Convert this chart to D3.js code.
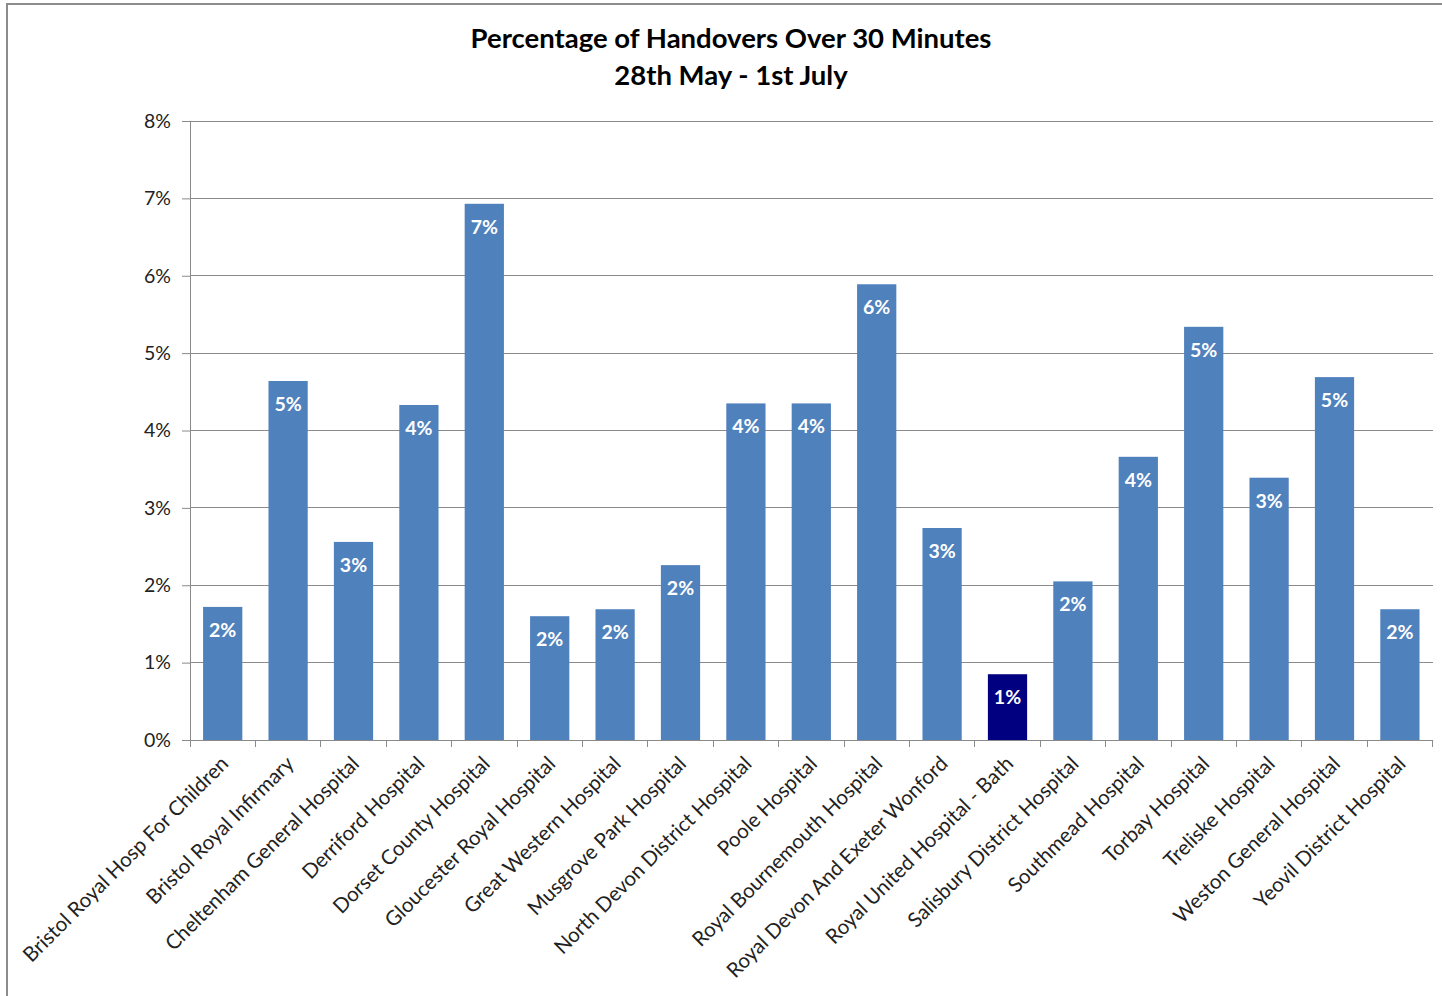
<!DOCTYPE html>
<html><head><meta charset="utf-8">
<script src="https://cdn.jsdelivr.net/npm/d3@7"></script>
<style>body{margin:0;background:#fff}svg{display:block}</style>
</head><body>
<svg id="c" width="1442" height="996"></svg>
<script>
const categories = ["Bristol Royal Hosp For Children","Bristol Royal Infirmary","Cheltenham General Hospital","Derriford Hospital","Dorset County Hospital","Gloucester Royal Hospital","Great Western Hospital","Musgrove Park Hospital","North Devon District Hospital","Poole Hospital","Royal Bournemouth Hospital","Royal Devon And Exeter Wonford","Royal United Hospital - Bath","Salisbury District Hospital","Southmead Hospital","Torbay Hospital","Treliske Hospital","Weston General Hospital","Yeovil District Hospital"];
const values = [1.72,4.64,2.56,4.33,6.93,1.60,1.69,2.26,4.35,4.35,5.89,2.74,0.85,2.05,3.66,5.34,3.39,4.69,1.69];
const highlighted = ["Royal United Hospital - Bath"];
const yTicks = [0,1,2,3,4,5,6,7,8];
const titleLines = ["Percentage of Handovers Over 30 Minutes","28th May - 1st July"];

const svg = d3.select("#c");
const font = "Lato, 'Open Sans', sans-serif";
// outer border
svg.append("rect").attr("x",7).attr("y",4).attr("width",1450).attr("height",1010)
  .attr("fill","#fff").attr("stroke","#8c8c8c").attr("stroke-width",2);

const m = {left:190, right:1432.6, top:121, bottom:740};
const x = d3.scaleBand().domain(categories).range([m.left,m.right]).paddingInner(0.4).paddingOuter(0.2);
const xb = d3.scaleBand().domain(categories).range([m.left,m.right]);
const y = d3.scaleLinear().domain([0,8]).range([m.bottom,m.top]);

// gridlines
svg.append("g").selectAll("line").data(yTicks.slice(1)).join("line")
  .attr("x1",m.left).attr("x2",m.right).attr("y1",d=>y(d)).attr("y2",d=>y(d))
  .attr("stroke","#8a8a8a").attr("stroke-width",1).attr("shape-rendering","crispEdges");

// y axis
const ya = svg.append("g").attr("transform",`translate(${m.left},0)`)
  .call(d3.axisLeft(y).tickValues(yTicks).tickFormat(d=>d+"%").tickSize(8).tickPadding(11));
ya.select(".domain").attr("stroke","#8a8a8a");
ya.selectAll(".tick line").attr("stroke","#8a8a8a");
ya.selectAll("text").attr("font-family",font).attr("font-size",19.5).attr("fill","#222");

// bars
svg.append("g").selectAll("rect").data(categories).join("rect")
  .attr("x",d=>x(d)).attr("width",x.bandwidth())
  .attr("y",(d,i)=>y(values[i])).attr("height",(d,i)=>y(0)-y(values[i]))
  .attr("fill",d=>highlighted.includes(d)?"#000080":"#4F81BD");

// data labels
svg.append("g").selectAll("text").data(categories).join("text")
  .attr("x",d=>x(d)+x.bandwidth()/2).attr("y",(d,i)=>y(values[i])+30)
  .attr("text-anchor","middle").attr("font-family",font).attr("font-weight","bold")
  .attr("font-size",19.5).attr("fill","#fff")
  .text((d,i)=>Math.round(values[i])+"%");

// x axis
const xa = svg.append("g").attr("transform",`translate(0,${m.bottom})`)
  .call(d3.axisBottom(xb).tickSize(0).tickFormat(d=>d));
xa.select(".domain").attr("stroke","#8a8a8a");
xa.selectAll(".tick text").remove();
// category boundary ticks
svg.append("g").selectAll("line").data(categories.concat(["__end"])).join("line")
  .attr("x1",(d,i)=>m.left+i*xb.step()).attr("x2",(d,i)=>m.left+i*xb.step())
  .attr("y1",m.bottom).attr("y2",m.bottom+7).attr("stroke","#8a8a8a").attr("shape-rendering","crispEdges");
// category labels
svg.append("g").selectAll("text").data(categories).join("text")
  .attr("transform",d=>`translate(${xb(d)+xb.bandwidth()/2+7},${m.bottom+25}) rotate(-45)`)
  .attr("text-anchor","end").attr("font-family",font).attr("font-size",20.5).attr("fill","#222")
  .text(d=>d);

// title
svg.append("g").selectAll("text").data(titleLines).join("text")
  .attr("x",731).attr("y",(d,i)=>48+i*37).attr("text-anchor","middle")
  .attr("font-family",font).attr("font-weight","bold").attr("font-size",27.5).attr("fill","#000")
  .text(d=>d);
</script>
</body></html>
